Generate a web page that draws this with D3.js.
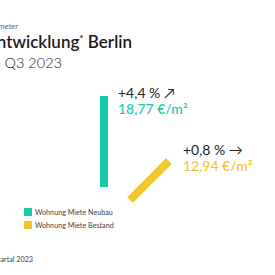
<!DOCTYPE html>
<html><head><meta charset="utf-8">
<script src="https://cdn.jsdelivr.net/npm/d3@7"></script>
<style>
html,body{margin:0;padding:0;background:#fff;overflow:hidden}
svg{display:block;font-family:Lato,"Open Sans",sans-serif}
</style></head>
<body>
<script>
const categories = ["Wohnung Miete Neubau", "Wohnung Miete Bestand"];
const prices = [18.77, 12.94];
const changes = [4.4, 0.8];
const changeLabels = ["+4,4 %", "+0,8 %"];
const priceLabels = ["18,77 €/m²", "12,94 €/m²"];
const arrows = ["↗", "→"];
const colors = ["#17CBAA", "#F0C72C"];

const W = 275, H = 275;
const svg = d3.select("body").append("svg").attr("width", W).attr("height", H);

// titles (cropped at left edge of view, as in the reference)
svg.append("text").attr("x", 18).attr("y", 29).attr("text-anchor", "end")
  .attr("font-size", 7.5).attr("fill", "#666").text("Mietpreisbarometer");
const t1 = svg.append("text").attr("x", 132).attr("y", 48).attr("text-anchor", "end")
  .attr("font-size", 17).attr("font-weight", 600).attr("fill", "#1a1a1a");
t1.append("tspan").text("Mietpreisentwicklung");
t1.append("tspan").attr("font-size", 10).attr("dy", -6).text("*");
t1.append("tspan").attr("dy", 6).text(" Berlin");
svg.append("text").attr("x", 62).attr("y", 68).attr("text-anchor", "end")
  .attr("font-size", 14.5).attr("font-weight", 300).attr("fill", "#1a1a1a").text("Q3 2023");

// scales
const xBase = d3.scalePoint().domain(categories).range([104, 130]);
const yBase = d3.scaleLinear().domain([0.8, 4.4]).range([200, 187]);
const angle = d3.scaleLinear().domain([0.8, 4.4]).range([45, 90]);
const len = d3.scaleLinear().domain([12.94, 18.77]).range([55, 91]);

const data = categories.map((c, i) => {
  const x0 = xBase(c), y0 = yBase(changes[i]);
  const a = angle(changes[i]) * Math.PI / 180, L = len(prices[i]);
  return {c, i, x0, y0, x1: x0 + L * Math.cos(a), y1: y0 - L * Math.sin(a)};
});

svg.selectAll("line.bar").data(data).join("line").attr("class", "bar")
  .attr("x1", d => d.x0).attr("y1", d => d.y0)
  .attr("x2", d => d.x1).attr("y2", d => d.y1)
  .attr("stroke", d => colors[d.i]).attr("stroke-width", 8).attr("stroke-linecap", "butt");

const labelDy = [2, -6];
const lab = svg.selectAll("g.lab").data(data).join("g").attr("class", "lab")
  .attr("transform", d => `translate(${d.x1 + 14},${d.y1 + labelDy[d.i]})`);
lab.append("text").attr("font-size", 14).attr("fill", "#222")
  .text(d => changeLabels[d.i] + " " + arrows[d.i]);
lab.append("text").attr("y", 16).attr("font-size", 14).attr("font-weight", 500)
  .attr("fill", d => colors[d.i]).text(d => priceLabels[d.i]);

// legend
const yLeg = d3.scalePoint().domain(categories).range([212, 225]);
const leg = svg.selectAll("g.leg").data(categories).join("g").attr("class", "leg")
  .attr("transform", c => `translate(24,${yLeg(c)})`);
leg.append("rect").attr("x", 0).attr("y", -4).attr("width", 8).attr("height", 8)
  .attr("fill", (c, i) => colors[i]);
leg.append("text").attr("x", 11).attr("y", 2.5).attr("font-size", 7.2).attr("fill", "#444").text(c => c);

svg.append("text").attr("x", 33).attr("y", 262).attr("text-anchor", "end")
  .attr("font-size", 7.2).attr("fill", "#444").text("Stand: 3. Quartal 2023");
</script>
</body></html>
